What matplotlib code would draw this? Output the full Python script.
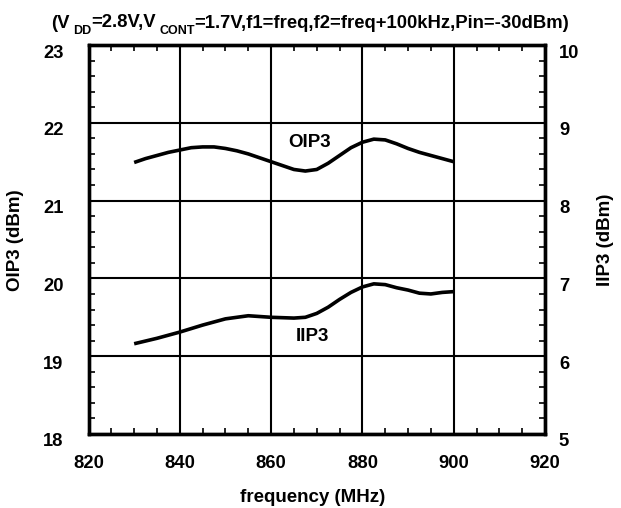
import matplotlib
matplotlib.use("Agg")
import matplotlib.pyplot as plt
from matplotlib.ticker import MultipleLocator
from matplotlib.transforms import ScaledTranslation

plt.rcParams['font.family'] = ['Liberation Sans', 'DejaVu Sans']
plt.rcParams['font.weight'] = 'bold'

freq_oip3 = [830, 832.5, 835, 837.5, 840, 842.5, 845, 847.5, 850, 852.5, 855, 857.5,
             860, 862.5, 865, 867.5, 870, 872.5, 875, 877.5, 880, 882.5, 885, 887.5,
             890, 892.5, 895, 897.5, 900]
oip3 = [21.49, 21.54, 21.58, 21.62, 21.65, 21.68, 21.69, 21.69, 21.67, 21.64, 21.60, 21.55,
        21.50, 21.45, 21.40, 21.38, 21.40, 21.48, 21.58, 21.68, 21.75, 21.79, 21.78, 21.73,
        21.67, 21.62, 21.58, 21.54, 21.50]

freq_iip3 = [830, 835, 840, 845, 850, 855, 860, 865, 867.5, 870, 872.5, 875, 877.5,
             880, 882.5, 885, 887.5, 890, 892.5, 895, 897.5, 900]
iip3 = [6.16, 6.23, 6.31, 6.40, 6.48, 6.52, 6.50, 6.49, 6.50, 6.55, 6.63, 6.73, 6.82,
        6.89, 6.93, 6.92, 6.88, 6.85, 6.81, 6.80, 6.82, 6.83]

x_ticks = [820, 840, 860, 880, 900, 920]
left_ticks = [18, 19, 20, 21, 22, 23]
right_ticks = [5, 6, 7, 8, 9, 10]

# title pieces: (text, is_subscript)
title_parts = [("(V", False), ("DD", True), ("=2.8V,V", False), ("CONT", True),
               ("=1.7V,f1=freq,f2=freq+100kHz,Pin=-30dBm)", False)]

W, H = 621, 508
fig = plt.figure(figsize=(W / 100, H / 100), dpi=100)
ax = fig.add_axes([88.5 / W, 1 - 434 / H, (545 - 88.5) / W, (434 - 45) / H])
ax2 = ax.twinx()

ax.plot(freq_oip3, oip3, color='black', lw=2.6, solid_capstyle='butt')
ax2.plot(freq_iip3, iip3, color='black', lw=2.6, solid_capstyle='butt')

ax.set_xlim(820, 920)
ax.set_ylim(18, 23)
ax2.set_ylim(5, 10)
ax.set_xticks(x_ticks)
ax.set_yticks(left_ticks)
ax2.set_yticks(right_ticks)
ax.xaxis.set_minor_locator(MultipleLocator(5))
ax.yaxis.set_minor_locator(MultipleLocator(0.2))
ax2.yaxis.set_minor_locator(MultipleLocator(0.2))

ax.grid(True, which='major', color='black', lw=1.5)
ax.set_axisbelow(True)

fs = 13.2
ax.tick_params(axis='x', which='major', length=0, labelsize=fs, pad=15)
ax.tick_params(axis='y', which='major', length=0, labelsize=fs, pad=18)
ax.tick_params(axis='both', which='minor', direction='in', length=4, width=1.2, top=True)
ax.tick_params(axis='y', which='minor', right=False)
ax2.tick_params(axis='y', which='major', length=0, labelsize=fs, pad=10)
ax2.tick_params(axis='y', which='minor', direction='in', length=4, width=1.2)

for a in (ax, ax2):
    for s in a.spines.values():
        s.set_linewidth(2.4)

shift = ScaledTranslation(0, -6 / 100, fig.dpi_scale_trans)
for lab in ax.get_yticklabels() + ax2.get_yticklabels():
    lab.set_fontweight('bold')
    lab.set_transform(lab.get_transform() + shift)
for lab in ax.get_xticklabels():
    lab.set_fontweight('bold')

fig.text(313 / W, 1 - 497 / H, 'frequency (MHz)', fontsize=13.5, fontweight='bold',
         ha='center', va='center')
fig.text(16 / W, 1 - 240 / H, 'OIP3 (dBm)', fontsize=13.5, fontweight='bold',
         ha='center', va='center', rotation=90)
fig.text(605 / W, 1 - 240 / H, 'IIP3 (dBm)', fontsize=13.5, fontweight='bold',
         ha='center', va='center', rotation=90)

ax.text(868.5, 21.75, 'OIP3', fontsize=13.5, fontweight='bold', ha='center', va='center')
ax.text(869, 19.25, 'IIP3', fontsize=13.5, fontweight='bold', ha='center', va='center')

# title built from pieces with lowered subscripts
renderer = fig.canvas.get_renderer()
tfs, sfs = 13.3, 9.0
base_y = H - 27.5           # baseline in pixels from bottom
sub_drop = 6.5
sub_gap = 3.5
widths = []
texts = []
for txt, sub in title_parts:
    t = fig.text(0, 0, txt, fontsize=sfs if sub else tfs, fontweight='bold',
                 ha='left', va='baseline', transform=None)
    texts.append((t, sub))
    widths.append(t.get_window_extent(renderer).width + (sub_gap if sub else 0))
total = sum(widths)
x = 310 - total / 2
for (t, sub), w in zip(texts, widths):
    if sub:
        t.set_position((x + sub_gap, base_y - sub_drop))
    else:
        t.set_position((x, base_y))
    x += w

fig.savefig('out.png', dpi=100)
